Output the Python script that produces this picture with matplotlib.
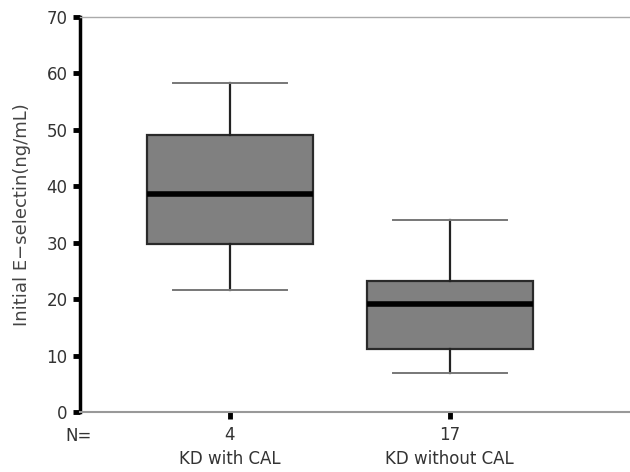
import matplotlib
matplotlib.use("Agg")
import matplotlib.pyplot as plt

# values
groups = ["KD with CAL", "KD without CAL"]
counts = [4, 17]
whisker_low = [21.6, 6.9]
q1 = [29.8, 11.2]
medians = [38.7, 19.2]
q3 = [49.1, 23.3]
whisker_high = [58.3, 34.1]

yticks = [0, 10, 20, 30, 40, 50, 60, 70]

plt.rcParams.update({
    "font.family": ["DejaVu Sans"],
    "font.size": 12,
    "text.color": "#333333",
})

fig = plt.figure(figsize=(6.3, 4.72), dpi=100)
ax = fig.add_axes([0.127, 0.127, 0.873, 0.837])

stats = [
    {"whislo": lo, "q1": a, "med": m, "q3": b, "whishi": hi, "fliers": []}
    for lo, a, m, b, hi in zip(whisker_low, q1, medians, q3, whisker_high)
]
positions = list(range(1, len(groups) + 1))
ax.bxp(
    stats,
    positions=positions,
    widths=0.755,
    patch_artist=True,
    showfliers=False,
    boxprops=dict(facecolor="#808080", edgecolor="#2a2a2a", linewidth=1.6),
    medianprops=dict(color="black", linewidth=4.0, solid_capstyle="butt"),
    whiskerprops=dict(color="#222222", linewidth=1.6),
    capprops=dict(color="#777777", linewidth=1.4),
    capwidths=0.52,
)

ax.set_ylim(0, 70)
ax.set_xlim(0.318, 2.82)
ax.set_yticks(yticks)
ax.set_xticks(positions)
ax.set_xticklabels([f"{n}\n{g}" for n, g in zip(counts, groups)],
                   linespacing=1.4, color="#333333")

ax.spines["left"].set_color("black")
ax.spines["left"].set_linewidth(2.5)
ax.spines["bottom"].set_color("#999999")
ax.spines["bottom"].set_linewidth(1.5)
ax.spines["top"].set_color("#aaaaaa")
ax.spines["top"].set_linewidth(1.0)
ax.spines["right"].set_visible(False)

ax.tick_params(axis="y", direction="out", length=5, width=3.5, color="black",
               pad=4, labelcolor="#333333")
ax.tick_params(axis="x", direction="out", length=5, width=3.5, color="black",
               pad=5)

ax.set_ylabel("Initial E\u2212selectin(ng/mL)", color="#444444",
              fontsize=13, labelpad=11)

fig.text(65 / 630, 1 - 436 / 472, "N=", ha="left", va="center",
         color="#333333", fontsize=12)

fig.savefig("out.png", dpi=100)
